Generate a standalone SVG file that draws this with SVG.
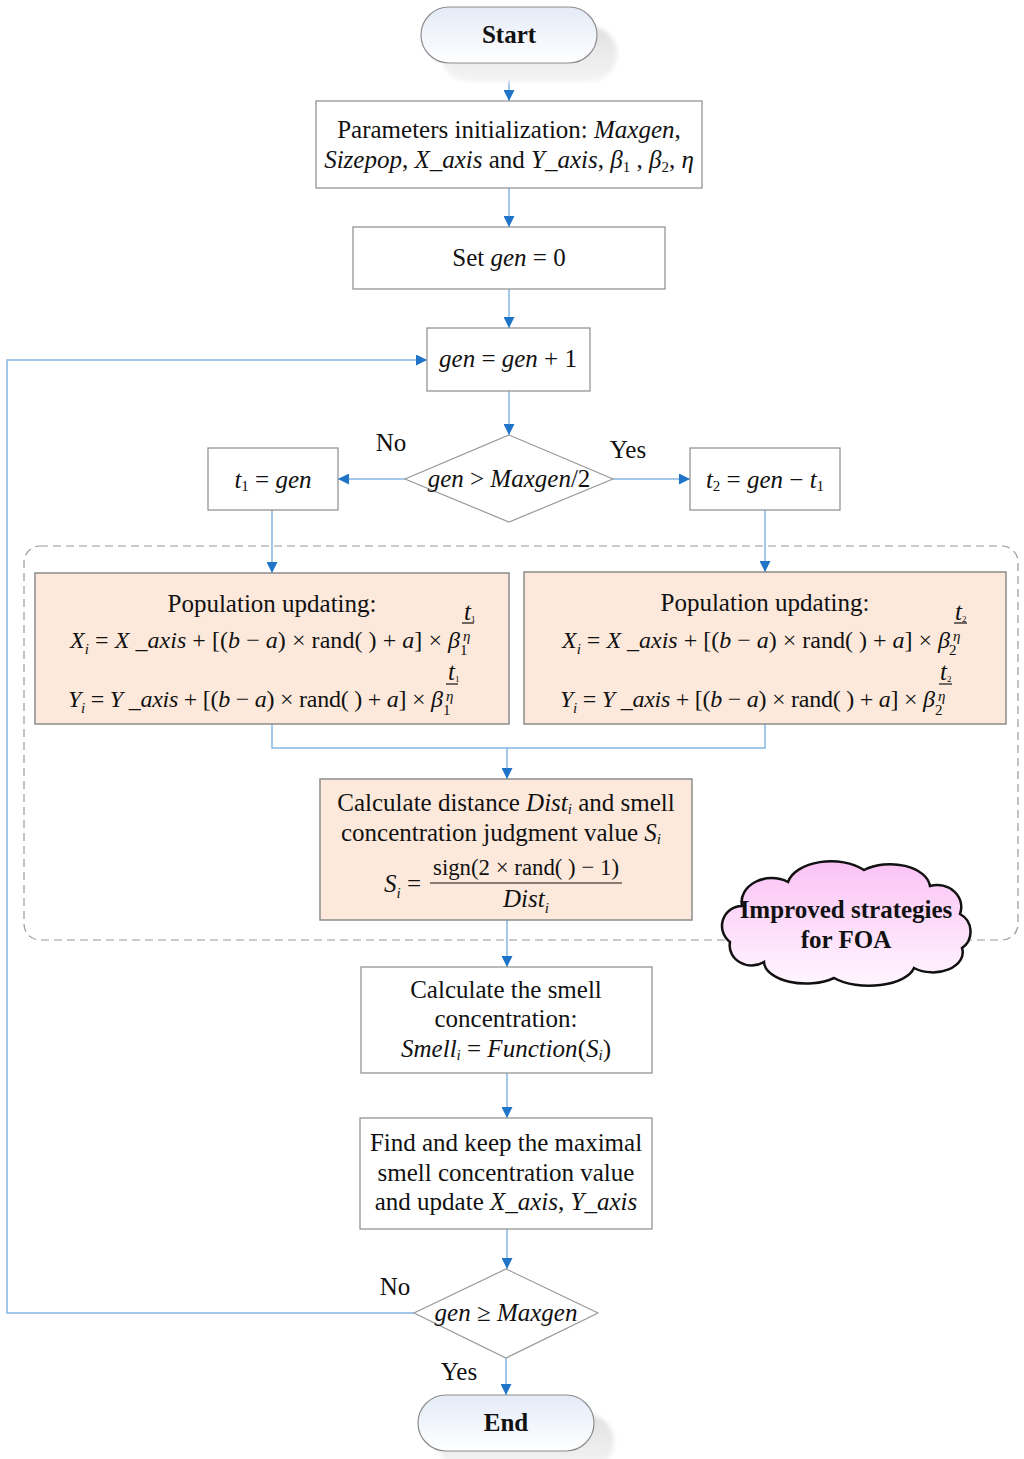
<svg xmlns="http://www.w3.org/2000/svg" width="1024" height="1459" viewBox="0 0 1024 1459">
<defs>
<style>
.t{font-family:"Liberation Serif","Times New Roman",serif;font-size:25px;fill:#111}
.f{font-size:24px}
.i{font-style:italic}
.b{font-weight:bold}
.s{font-size:15px}
.box{fill:#fff;stroke:#8c8c8c;stroke-width:1.2}
.pop{fill:#fde9db;stroke:#8c8c8c;stroke-width:1.5}
.dia{fill:#fff;stroke:#9a9a9a;stroke-width:1.2}
.c{fill:none;stroke:#86b6e6;stroke-width:1.5}
.frac{stroke:#111;stroke-width:1.2}
</style>
<marker id="ar" viewBox="0 0 11 11" refX="11" refY="5.5" markerWidth="11" markerHeight="11" markerUnits="userSpaceOnUse" orient="auto">
<path d="M0,0 L11,5.5 L0,11 z" fill="#1f74c8"/>
</marker>
<linearGradient id="term" x1="0" y1="0" x2="0" y2="1">
<stop offset="0" stop-color="#e4ebf7"/>
<stop offset="1" stop-color="#ffffff"/>
</linearGradient>
<linearGradient id="sh" x1="0" y1="0" x2="0" y2="1">
<stop offset="0" stop-color="#e0e0e0"/>
<stop offset="1" stop-color="#f5f5f5"/>
</linearGradient>
<linearGradient id="cloudg" x1="0" y1="0" x2="0" y2="1">
<stop offset="0" stop-color="#fbc2f5"/>
<stop offset="1" stop-color="#fff6ff"/>
</linearGradient>
<filter id="blur" x="-10%" y="-20%" width="120%" height="140%">
<feGaussianBlur stdDeviation="2"/>
</filter>
</defs>
<rect width="1024" height="1459" fill="#fff"/>

<g id="improved-region">
<rect x="24" y="546" width="994" height="394" rx="16" fill="none" stroke="#9a9a9a" stroke-width="1.2" stroke-dasharray="8,5"/>
</g>

<g id="connectors">
<path class="c" d="M509,63 V101" marker-end="url(#ar)"/>
<path class="c" d="M509,188 V227" marker-end="url(#ar)"/>
<path class="c" d="M509,289 V328" marker-end="url(#ar)"/>
<path class="c" d="M509,391 V435" marker-end="url(#ar)"/>
<path class="c" d="M405,479 H338" marker-end="url(#ar)"/>
<path class="c" d="M613,479 H690" marker-end="url(#ar)"/>
<path class="c" d="M272,510 V573" marker-end="url(#ar)"/>
<path class="c" d="M765,510 V572" marker-end="url(#ar)"/>
<path class="c" d="M272,724 V748 H765 V724"/>
<path class="c" d="M507,748 V779" marker-end="url(#ar)"/>
<path class="c" d="M507,920 V967" marker-end="url(#ar)"/>
<path class="c" d="M507,1073 V1118" marker-end="url(#ar)"/>
<path class="c" d="M507,1229 V1269" marker-end="url(#ar)"/>
<path class="c" d="M414,1313 H7 V360 H427" marker-end="url(#ar)"/>
<path class="c" d="M506,1358 V1395" marker-end="url(#ar)"/>
<text class="t" x="391" y="451" text-anchor="middle">No</text>
<text class="t" x="628" y="458" text-anchor="middle">Yes</text>
<text class="t" x="395" y="1295" text-anchor="middle">No</text>
<text class="t" x="459" y="1380" text-anchor="middle">Yes</text>
</g>

<g id="start">
<rect x="441" y="26" width="176" height="56" rx="28" fill="url(#sh)" filter="url(#blur)"/>
<rect x="421" y="7" width="176" height="56" rx="28" fill="url(#term)" stroke="#8c8c8c" stroke-width="1.2"/>
<text class="t b" x="509" y="43" text-anchor="middle">Start</text>
</g>

<g id="params">
<rect class="box" x="316" y="101" width="386" height="87"/>
<text class="t" x="509" y="138" text-anchor="middle">Parameters initialization: <tspan class="i">Maxgen</tspan>,</text>
<text class="t" x="509" y="168" text-anchor="middle"><tspan class="i">Sizepop</tspan>, <tspan class="i">X_axis</tspan> and <tspan class="i">Y_axis</tspan>, <tspan class="i">β</tspan><tspan class="s" dy="4">1</tspan><tspan dy="-4"> , </tspan><tspan class="i">β</tspan><tspan class="s" dy="4">2</tspan><tspan dy="-4">, </tspan><tspan class="i">η</tspan></text>
</g>

<g id="setgen">
<rect class="box" x="353" y="227" width="312" height="62"/>
<text class="t" x="509" y="266" text-anchor="middle">Set <tspan class="i">gen</tspan> = 0</text>
</g>

<g id="geninc">
<rect class="box" x="427" y="328" width="163" height="63"/>
<text class="t" x="508" y="367" text-anchor="middle"><tspan class="i">gen</tspan> = <tspan class="i">gen</tspan> + 1</text>
</g>

<g id="decision1">
<polygon class="dia" points="509,435 613,479 509,522 405,479"/>
<text class="t" x="509" y="487" text-anchor="middle"><tspan class="i">gen</tspan> &gt; <tspan class="i">Maxgen</tspan>/2</text>
</g>

<g id="t1box">
<rect class="box" x="208" y="448" width="130" height="62"/>
<text class="t" x="273" y="488" text-anchor="middle"><tspan class="i">t</tspan><tspan class="s" dy="3">1</tspan><tspan dy="-3"> = </tspan><tspan class="i">gen</tspan></text>
</g>

<g id="t2box">
<rect class="box" x="690" y="448" width="150" height="62"/>
<text class="t" x="765" y="488" text-anchor="middle"><tspan class="i">t</tspan><tspan class="s" dy="3">2</tspan><tspan dy="-3"> = </tspan><tspan class="i">gen</tspan> −  <tspan class="i">t</tspan><tspan class="s" dy="3">1</tspan></text>
</g>

<g id="pop1">
<rect class="pop" x="35" y="573" width="474" height="151"/>
<text class="t" x="272" y="612" text-anchor="middle">Population updating:</text>
<text class="t f" x="70" y="648" textLength="390" lengthAdjust="spacing"><tspan class="i">X</tspan><tspan class="s i" dy="6">i</tspan><tspan dy="-6"> = </tspan><tspan class="i">X</tspan> _<tspan class="i">axis</tspan> + [(<tspan class="i">b</tspan> − <tspan class="i">a</tspan>) × rand( ) + <tspan class="i">a</tspan>] × <tspan class="i">β</tspan></text>
<text class="t s" x="460" y="655">1</text>
<text class="t s i" x="463" y="641">η</text>
<text class="t i" x="464" y="620" font-size="12">t<tspan font-size="9" font-style="normal" dy="2">1</tspan></text>
<line class="frac" x1="462" y1="623" x2="474" y2="623" stroke-width="0.8"/>
<text class="t f" x="68" y="707" textLength="375" lengthAdjust="spacing"><tspan class="i">Y</tspan><tspan class="s i" dy="6">i</tspan><tspan dy="-6"> = </tspan><tspan class="i">Y</tspan> _<tspan class="i">axis</tspan> + [(<tspan class="i">b</tspan> − <tspan class="i">a</tspan>) × rand( ) + <tspan class="i">a</tspan>] × <tspan class="i">β</tspan></text>
<text class="t s" x="443" y="715">1</text>
<text class="t s i" x="446" y="701">η</text>
<text class="t i" x="448" y="680" font-size="12">t<tspan font-size="9" font-style="normal" dy="2">1</tspan></text>
<line class="frac" x1="446" y1="684" x2="458" y2="684" stroke-width="0.8"/>
</g>

<g id="pop2">
<rect class="pop" x="524" y="572" width="482" height="152"/>
<text class="t" x="765" y="611" text-anchor="middle">Population updating:</text>
<text class="t f" x="562" y="648" textLength="388" lengthAdjust="spacing"><tspan class="i">X</tspan><tspan class="s i" dy="6">i</tspan><tspan dy="-6"> = </tspan><tspan class="i">X</tspan> _<tspan class="i">axis</tspan> + [(<tspan class="i">b</tspan> − <tspan class="i">a</tspan>) × rand( ) + <tspan class="i">a</tspan>] × <tspan class="i">β</tspan></text>
<text class="t s" x="949" y="655">2</text>
<text class="t s i" x="953" y="641">η</text>
<text class="t i" x="955" y="620" font-size="12">t<tspan font-size="9" font-style="normal" dy="2">2</tspan></text>
<line class="frac" x1="954" y1="623" x2="967" y2="623" stroke-width="0.8"/>
<text class="t f" x="560" y="707" textLength="375" lengthAdjust="spacing"><tspan class="i">Y</tspan><tspan class="s i" dy="6">i</tspan><tspan dy="-6"> = </tspan><tspan class="i">Y</tspan> _<tspan class="i">axis</tspan> + [(<tspan class="i">b</tspan> − <tspan class="i">a</tspan>) × rand( ) + <tspan class="i">a</tspan>] × <tspan class="i">β</tspan></text>
<text class="t s" x="935" y="715">2</text>
<text class="t s i" x="938" y="701">η</text>
<text class="t i" x="940" y="680" font-size="12">t<tspan font-size="9" font-style="normal" dy="2">2</tspan></text>
<line class="frac" x1="939" y1="684" x2="952" y2="684" stroke-width="0.8"/>
</g>

<g id="calcdist">
<rect class="pop" x="320" y="779" width="372" height="141"/>
<text class="t" x="506" y="811" text-anchor="middle">Calculate distance <tspan class="i">Dist</tspan><tspan class="s i" dy="3">i</tspan><tspan dy="-3"> and smell</tspan></text>
<text class="t" x="501" y="841" text-anchor="middle">concentration judgment value <tspan class="i">S</tspan><tspan class="s i" dy="3">i</tspan></text>
<text class="t" x="384" y="892"><tspan class="i">S</tspan><tspan class="s i" dy="6">i</tspan><tspan dy="-6"> =</tspan></text>
<text class="t f" x="433" y="875" textLength="186" lengthAdjust="spacingAndGlyphs">sign(2 × rand( ) − 1)</text>
<line class="frac" x1="430" y1="883" x2="622" y2="883"/>
<text class="t" x="526" y="907" text-anchor="middle"><tspan class="i">Dist</tspan><tspan class="s i" dy="6">i</tspan></text>
</g>

<g id="cloud">
<path d="M742,906 A30,24 0 0 1 788,882 A44,26 0 0 1 864,870 A40,24 0 0 1 930,886 A24,22 0 0 1 960,914 A20,20 0 0 1 962,948 A30,20 0 0 1 914,968 A46,22 0 0 1 834,978 A42,22 0 0 1 764,962 A22,20 0 0 1 730,942 A20,20 0 0 1 742,906 Z" fill="url(#cloudg)" stroke="#111" stroke-width="2.5"/>
<text class="t b" x="846" y="918" text-anchor="middle">Improved strategies</text>
<text class="t b" x="846" y="948" text-anchor="middle">for FOA</text>
</g>

<g id="smell">
<rect class="box" x="361" y="967" width="291" height="106"/>
<text class="t" x="506" y="998" text-anchor="middle">Calculate the smell</text>
<text class="t" x="506" y="1027" text-anchor="middle">concentration:</text>
<text class="t" x="506" y="1057" text-anchor="middle"><tspan class="i">Smell</tspan><tspan class="s i" dy="3">i</tspan><tspan dy="-3"> = </tspan><tspan class="i">Function</tspan>(<tspan class="i">S</tspan><tspan class="s i" dy="3">i</tspan><tspan dy="-3">)</tspan></text>
</g>

<g id="findkeep">
<rect class="box" x="360" y="1118" width="292" height="111"/>
<text class="t" x="506" y="1151" text-anchor="middle">Find and keep the maximal</text>
<text class="t" x="506" y="1181" text-anchor="middle">smell concentration value</text>
<text class="t" x="506" y="1210" text-anchor="middle">and update <tspan class="i">X_axis, Y_axis</tspan></text>
</g>

<g id="decision2">
<polygon class="dia" points="506,1269 598,1313 506,1358 414,1313"/>
<text class="t" x="506" y="1321" text-anchor="middle"><tspan class="i">gen</tspan> ≥ <tspan class="i">Maxgen</tspan></text>
</g>

<g id="end">
<rect x="438" y="1414" width="176" height="56" rx="28" fill="url(#sh)" filter="url(#blur)"/>
<rect x="418" y="1395" width="176" height="56" rx="28" fill="url(#term)" stroke="#8c8c8c" stroke-width="1.2"/>
<text class="t b" x="506" y="1431" text-anchor="middle">End</text>
</g>
</svg>
